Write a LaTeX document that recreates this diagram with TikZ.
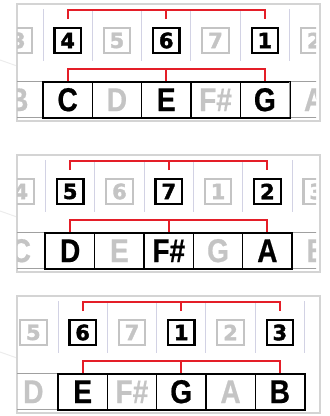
\documentclass[tikz,border=0pt]{standalone}
\usepackage{fontspec}
\usetikzlibrary{positioning,calc}
\newfontfamily\notefont[FakeStretch=0.85,FakeBold=0.6]{Liberation Sans}
\newfontfamily\digfont[FakeBold=1.8]{DejaVu Sans}
\definecolor{chordred}{RGB}{228,30,40}
\definecolor{faint}{RGB}{196,196,196}
\definecolor{rim}{RGB}{212,212,212}
\definecolor{rowgrey}{RGB}{160,160,160}
\definecolor{lavender}{RGB}{210,210,228}
\definecolor{ghost}{RGB}{236,236,236}

\tikzset{
  digon/.style={draw=black,line width=2.2pt,minimum width=26.5pt,minimum height=24.5pt,
    inner sep=0pt,font=\digfont\bfseries\fontsize{21}{21}\selectfont},
  digoff/.style={digon,draw=faint,text=faint},
  noteon/.style={draw=black,line width=1.3pt,minimum width=49.3pt,minimum height=35.5pt,
    inner sep=0pt,font=\notefont\bfseries\fontsize{33}{33}\selectfont},
  noteoff/.style={noteon,text=faint},
  noteout/.style={noteon,draw=rowgrey,line width=1pt,text=faint},
  bracket/.style={chordred,line width=1.8pt},
  divider/.style={lavender,line width=1pt},
}

\begin{document}
\begin{tikzpicture}[x=1pt,y=1pt]
  \useasboundingbox (0,0) rectangle (330,416);
  % one panel per chord: note row top, left edge of the chord block, cells
  \foreach \N/\xo/\cells [count=\p] in
    {334/43/{3/B,4/C,5/D,6/E,7/F\#,1/G,2/A},
     183/45.5/{4/C,5/D,6/E,7/F\#,1/G,2/A,3/B},
     42/58/{5/D,6/E,7/F\#,1/G,2/A,3/B}}{
    \draw[ghost,line width=1pt] (0,\N+22) -- (17,\N+16);
    \draw[rim,line width=2pt] (17,\N-39) rectangle (319.5,\N+78);
    \begin{scope}
      \clip (17,\N-40) rectangle (316,\N+79);
      \foreach \i in {0,...,5}
        \draw[divider] (\xo+\i*49.3,\N+21) -- (\xo+\i*49.3,\N+73);
      \foreach \d/\n [count=\c from -1] in \cells {
        \pgfmathsetmacro\cx{\xo+24.65+\c*49.3}
        \ifodd\c \def\tone{off}\else\def\tone{on}\fi
        \ifnum\c<0 \def\kind{out}\else\ifnum\c>4 \def\kind{out}\else\let\kind\tone\fi\fi
        \node[dig\tone] (d\p\c) at (\cx,\N+41.5) {\d};
        \node[note\kind] (n\p\c) at (\cx,\N-17.75) {\n};
      }
      \draw[line width=1.3pt] (n\p0.north west) rectangle (n\p4.south east);
    \end{scope}
    \draw[bracket] ($(d\p0.north)+(0,8)$) |- ($(d\p4.north)+(0,17)$) -- ($(d\p4.north)+(0,8)$);
    \draw[bracket] ($(d\p2.north)+(0,8)$) -- ++(0,9);
    \draw[bracket] (n\p0.north) |- ($(n\p4.north)+(0,12)$) -- (n\p4.north);
    \draw[bracket] (n\p2.north) -- ++(0,12);
  }
\end{tikzpicture}
\end{document}
